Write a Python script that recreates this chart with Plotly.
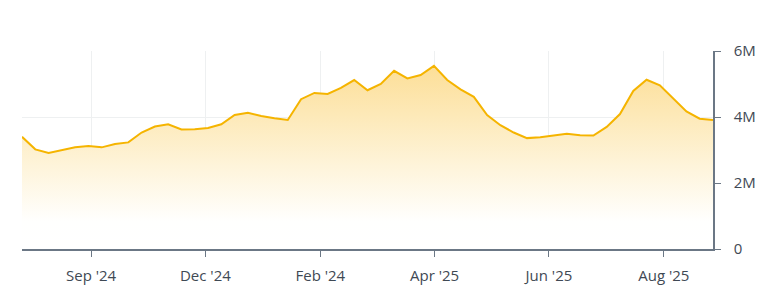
import plotly.graph_objects as go

# Weekly values (millions)
values_m = [3.40, 3.02, 2.91, 2.99, 3.08, 3.12, 3.08, 3.18, 3.23, 3.53,
            3.71, 3.78, 3.62, 3.63, 3.67, 3.78, 4.06, 4.13, 4.03, 3.96,
            3.91, 4.54, 4.73, 4.70, 4.88, 5.12, 4.81, 5.00, 5.40, 5.17,
            5.27, 5.55, 5.12, 4.84, 4.61, 4.06, 3.75, 3.53, 3.36, 3.39,
            3.43, 3.49, 3.45, 3.44, 3.70, 4.09, 4.79, 5.13, 4.96, 4.58,
            4.17, 3.95, 3.91]
values = [v * 1e6 for v in values_m]
x_idx = list(range(len(values)))

tick_labels = ["Sep '24", "Dec '24", "Feb '24", "Apr '25", "Jun '25", "Aug '25"]
tick_positions = [5.2, 13.8, 22.45, 31.05, 39.65, 48.3]

y_ticks = [0, 2e6, 4e6, 6e6]

fig = go.Figure()
fig.add_trace(go.Scatter(
    x=x_idx, y=values, mode="lines",
    line=dict(color="#F5B400", width=2),
    fill="tozeroy",
    fillgradient=dict(
        type="vertical", start=0, stop=5.6e6,
        colorscale=[[0, "rgb(255,255,255)"], [0.15, "rgb(255,255,254)"],
                    [0.45, "rgb(254,244,218)"], [1, "rgb(252,222,150)"]],
    ),
    hoverinfo="skip",
))

font_color = "#3f4954"
fig.update_layout(
    width=768, height=301,
    margin=dict(l=22, r=55, t=51, b=52),
    paper_bgcolor="white", plot_bgcolor="white",
    showlegend=False,
    font=dict(family="Open Sans", size=15, color=font_color),
    xaxis=dict(
        range=[0, 52], tickvals=tick_positions, ticktext=tick_labels,
        showgrid=True, gridcolor="#eef0f1", gridwidth=1,
        showline=True, linecolor="#6b7785", linewidth=1.5,
        ticks="outside", ticklen=6, tickcolor="#6b7785",
        zeroline=False, fixedrange=True,
        ticklabelstandoff=6,
    ),
    yaxis=dict(
        side="right", range=[0, 6e6], tickvals=y_ticks,
        ticktext=["0", "2M", "4M", "6M"],
        showgrid=True, gridcolor="#eef0f1", gridwidth=1,
        showline=True, linecolor="#6b7785", linewidth=1.5,
        ticks="outside", ticklen=6, tickcolor="#6b7785",
        zeroline=False, fixedrange=True,
        ticklabelstandoff=10,
    ),
)

fig.write_html("out.html")
